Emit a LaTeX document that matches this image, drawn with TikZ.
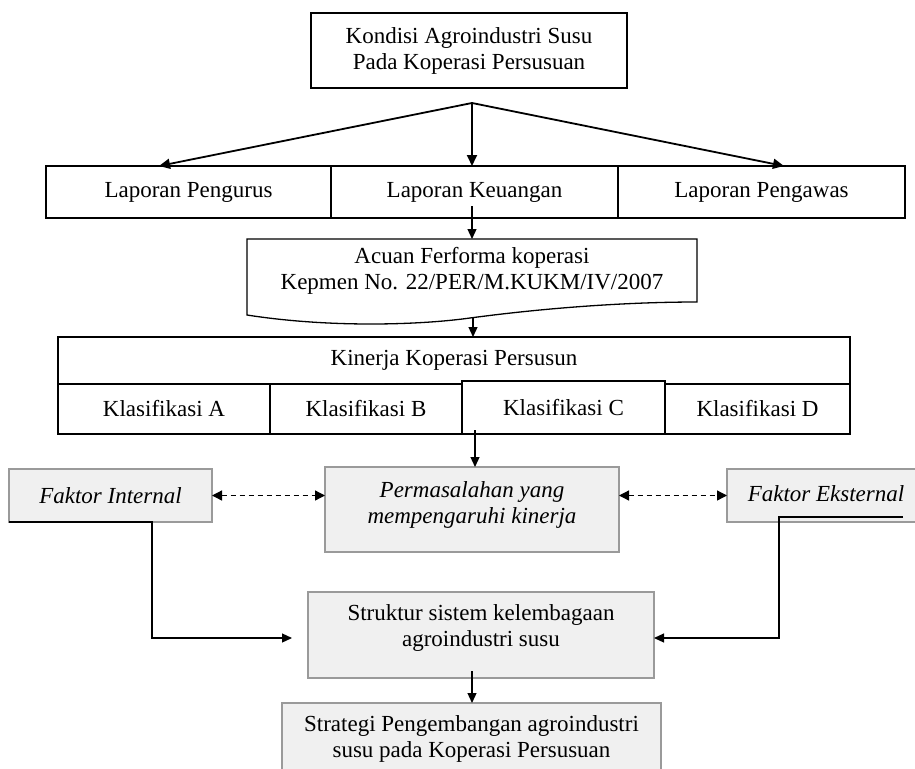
\documentclass[tikz,border=0pt]{standalone}
\usepackage{fontspec}
\setmainfont{Liberation Serif}
\usetikzlibrary{arrows.meta,calc}
\definecolor{boxfill}{HTML}{F0F0F0}
\definecolor{boxline}{HTML}{9A9A9A}
\begin{document}
\begin{tikzpicture}[x=1pt,y=-1pt,
  every node/.style={font=\fontsize{23}{26}\selectfont, inner sep=0pt, outer sep=0pt},
  plainbox/.style={draw=black, line width=1.3pt, fill=white},
  greybox/.style={draw=boxline, line width=1.5pt, fill=boxfill},
  conn/.style={line width=1.2pt, -{Triangle[length=10pt,width=9pt]}},
  fanarrow/.style={line width=1.8pt, -{Triangle[length=11pt,width=10pt]}},
  dasharrow/.style={line width=1.3pt, dash pattern=on 5pt off 4pt,
    {Triangle[length=10pt,width=10pt]}-{Triangle[length=10pt,width=10pt]}},
  ital/.style={font=\fontsize{23}{26}\selectfont\itshape}]
\useasboundingbox (0,0) rectangle (915,768);
\clip (0,0) rectangle (915,768);

% --- top: condition of the dairy agro-industry
\node[plainbox, minimum width=316pt, minimum height=75pt, align=center] (kondisi) at (469,50.5)
  {Kondisi Agroindustri Susu\\Pada Koperasi Persusuan};
\coordinate (apex) at (472,103);

% --- the three reports
\node[plainbox, minimum width=285pt, minimum height=52pt] (lpeng) at (188.5,192) {Laporan Pengurus};
\node[plainbox, minimum width=287pt, minimum height=52pt] (lkeu) at (474.5,192) {Laporan Keuangan};
\node[plainbox, minimum width=287pt, minimum height=52pt] (lpgw) at (761.5,192) {Laporan Pengawas};

\coordinate (xl) at (159,0);
\coordinate (xr) at (784,0);
\draw[fanarrow] (apex) -- (lpeng.north -| xl);
\draw[fanarrow] (apex) -- (lkeu.north -| apex);
\draw[fanarrow] (apex) -- (lpgw.north -| xr);

% --- performance reference (document shape)
\node[align=center, minimum width=450pt, minimum height=64pt] (acuan) at (472,271)
  {Acuan Ferforma koperasi\\Kepmen No. 22/PER/M.KUKM/IV/2007};
\draw[line width=1.3pt] (acuan.north west) -- (acuan.north east) -- (697,302)
  .. controls (640,302) and (560,306) .. (470,318)
  .. controls (420,325) and (330,328) .. (247,315) -- cycle;

\coordinate (k1) at (472,206);
\draw[conn] (k1) -- (acuan.north);

% --- cooperative performance table
\node[plainbox, minimum width=792pt, minimum height=47pt] (kintop) at (454,360.5) {Kinerja Koperasi Persusun};
\node[plainbox, minimum width=212pt, minimum height=50pt] (ka) at (164,409) {Klasifikasi A};
\node[plainbox, minimum width=192pt, minimum height=50pt] (kb) at (366,409) {Klasifikasi B};
\node[plainbox, minimum width=185pt, minimum height=50pt] (kd) at (757.5,409) {Klasifikasi D};
\node[plainbox, minimum width=203pt, minimum height=53pt] (kc) at (563.5,407.5) {Klasifikasi C};

\coordinate (a1) at (473,318);
\draw[conn] (a1) -- (kintop.north -| a1);

% --- problems and factors
\node[greybox, minimum width=203pt, minimum height=53pt, ital] (fi) at (110.5,495.5) {Faktor Internal};
\node[greybox, minimum width=294pt, minimum height=85pt] (perm) at (472,509.5) {};
\node[ital, align=center] (permtext) at (472,505) {Permasalahan yang\\mempengaruhi kinerja};
\node[greybox, minimum width=193pt, minimum height=53pt] (fe) at (823.5,495.5) {};
\node[ital] (fetext) at (826,494) {Faktor Eksternal};

\coordinate (c1) at (475,430);
\draw[conn] (c1) -- (perm.north -| c1);

\draw[dasharrow] (fi.east) -- (fi.east -| perm.west);
\draw[dasharrow] (perm.east |- fe.west) -- (fe.west);

% --- institutional structure
\node[greybox, minimum width=346pt, minimum height=86pt] (struk) at (481,635) {};
\node[align=center] (struktext) at (481,628) {Struktur sistem kelembagaan\\agroindustri susu};

\coordinate (sttarget) at ($(struk.west)+(-16,3)$);
\draw[conn] (fi.south west) -- ++(143,0) |- (sttarget);
\coordinate (e0) at (903,517);
\coordinate (stright) at ($(struk.east)+(0,3)$);
\draw[conn] (e0) -- ++(-124,0) |- (stright);

% --- development strategy
\node[greybox, minimum width=379pt, minimum height=72pt, align=center] (strat) at (471.5,739)
  {Strategi Pengembangan agroindustri\\susu pada Koperasi Persusuan};

\coordinate (s1) at (472,671);
\draw[conn] (s1) -- (strat.north -| s1);
\end{tikzpicture}
\end{document}
